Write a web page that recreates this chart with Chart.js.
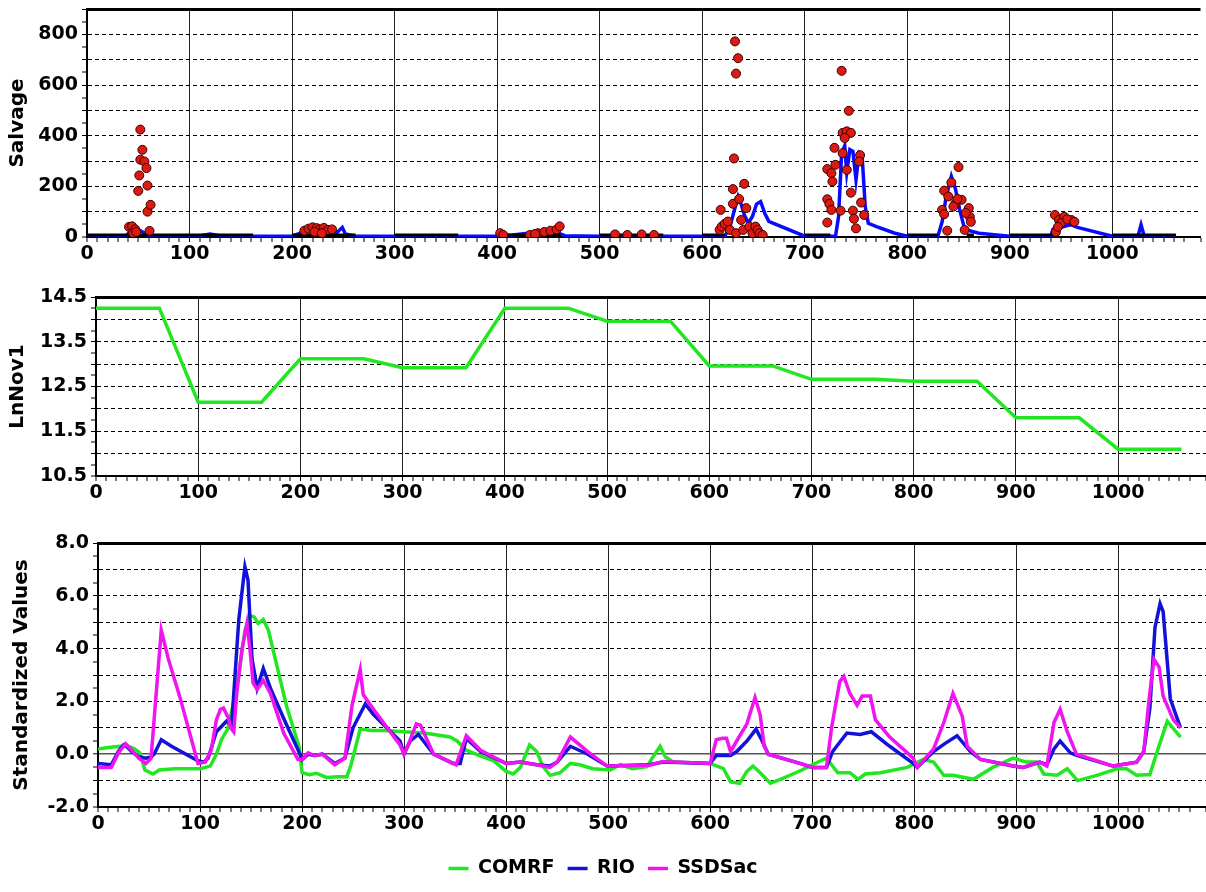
<!DOCTYPE html>
<html>
<head>
<meta charset="utf-8">
<script src="https://cdn.jsdelivr.net/npm/chart.js@4.4.1/dist/chart.umd.min.js"></script>
<style>
  html, body { margin: 0; padding: 0; background: #fff; }
  #tela { position: relative; width: 1206px; height: 892px; overflow: hidden; }
  #tela canvas { position: absolute; left: 0; display: block; }
</style>
</head>
<body>
<div id="tela">
  <canvas id="grafico1" width="1206" height="262" style="top:0px"></canvas>
  <canvas id="grafico2" width="1206" height="248" style="top:262px"></canvas>
  <canvas id="grafico3" width="1206" height="382" style="top:510px"></canvas>
</div>
<script>
// painel 1 - Salvage (pontos observados, linha prevista, linha base)
var salvageX = [41, 44, 47, 45, 48, 50, 51, 52, 52, 54, 56, 58, 59, 59, 62, 61,
  212, 216, 220, 224, 227, 231, 235, 239, 222, 229,
  403, 406, 432, 440, 446, 452, 458, 461, 437,
  515, 527, 541, 553,
  617, 619, 622, 625, 627, 633, 638, 640, 646, 649, 652, 654, 656, 659, 632, 635, 633, 631, 641, 630, 630, 636, 618, 643,
  736, 743, 737, 741, 745, 739, 729, 737, 754, 753, 730, 722, 726, 727, 741, 745, 722, 724, 726, 755, 735, 747, 748, 758, 722, 750,
  850, 836, 853, 860, 834, 861, 856, 839, 847, 840, 845, 857, 849, 836, 862, 843,
  944, 948, 953, 960, 945, 950, 956, 963, 947];
var salvageY = [40, 42, 30, 15, 20, 182, 243, 305, 424, 344, 298, 272, 203, 100, 127, 24,
  25, 33, 38, 35, 30, 36, 28, 30, 20, 15,
  15, 8, 8, 15, 20, 25, 30, 42, 12,
  10, 8, 10, 8,
  28, 41, 52, 61, 28, 15, 67, 28, 41, 15, 41, 28, 15, 8, 772, 706, 645, 310, 210, 189, 131, 150, 107, 114,
  656, 498, 411, 417, 411, 391, 352, 331, 323, 298, 285, 268, 252, 219, 265, 175, 149, 131, 107, 136, 104, 104, 72, 87, 57, 34,
  276, 183, 147, 114, 107, 80, 28, 25, 133, 160, 120, 95, 150, 90, 60, 215,
  87, 67, 80, 67, 20, 55, 70, 60, 40];

var predX = [0, 38, 41, 45, 50, 55, 60, 80, 112, 120, 128, 160, 200, 206, 212, 220, 228, 236, 244, 249,
  252, 262, 300, 400, 415, 428, 440, 450, 458, 466, 500, 600, 622, 627, 631, 635, 638, 641, 645, 649,
  653, 657, 661, 665, 669, 700, 730, 733, 736, 739, 741, 744, 747, 750, 753, 756, 759, 762, 770, 788,
  800, 830, 834, 838, 843, 847, 851, 856, 870, 900, 940, 942, 946, 950, 956, 960, 966, 1000, 1025, 1028, 1031, 1062];
var predY = [3, 3, 18, 33, 30, 18, 5, 3, 6, 12, 6, 3, 3, 12, 22, 28, 30, 24, 18, 38,
  12, 3, 3, 3, 8, 14, 18, 24, 18, 5, 3, 3, 3, 40, 100, 160, 130, 88, 55, 81,
  130, 140, 94, 62, 55, 3, 3, 80, 330, 360, 255, 345, 338, 226, 331, 318, 120, 54, 41, 15,
  3, 5, 60, 160, 240, 190, 110, 30, 15, 3, 3, 30, 45, 38, 45, 48, 38, 3, 3, 48, 5, 3];

var baseX = [0, 162, 181, 200, 262, 281, 300, 362, 381, 400, 462, 481, 500, 562, 581, 600, 622, 660,
  700, 725, 760, 800, 830, 845, 858, 865, 880, 900, 942, 970, 1000, 1062];
var baseY = [8, 8, null, 8, 8, null, 8, 8, null, 8, 8, null, 8, 8, null, 8, 8, null,
  8, 8, null, 8, 8, null, 8, 8, null, 8, 8, null, 8, 8];

// painel 2 - LnNov1
var lnX = [0, 62, 100, 162, 200, 262, 300, 362, 400, 462, 500, 562, 600, 662, 700, 762, 800, 862, 900, 962, 1000, 1062];
var lnY = [14.25, 14.25, 12.15, 12.15, 13.12, 13.12, 12.92, 12.92, 14.25, 14.25, 13.96, 13.96,
  12.96, 12.96, 12.66, 12.66, 12.62, 12.62, 11.8, 11.8, 11.1, 11.1];

// painel 3 - valores padronizados
var comrfX = [0, 10, 22, 30, 36, 41, 46, 54, 60, 75, 100, 110, 116, 121, 127, 132, 138, 144, 149, 153,
  157, 162, 167, 175, 185, 197, 200, 207, 214, 224, 235, 244, 248, 257, 268, 282, 300, 320, 345, 352,
  361, 374, 388, 400, 407, 414, 423, 430, 436, 443, 453, 463, 472, 485, 502, 512, 524, 538, 544, 551,
  556, 564, 600, 613, 620, 629, 636, 642, 649, 659, 669, 690, 700, 714, 719, 725, 737, 745, 752, 767,
  793, 809, 819, 829, 838, 858, 877, 897, 910, 920, 927, 940, 950, 960, 979, 999, 1008, 1018, 1031, 1038,
  1048, 1061];
var comrfY = [0.2, 0.25, 0.3, 0.3, 0.2, 0.05, -0.6, -0.75, -0.6, -0.55, -0.55, -0.45, 0.0, 0.55, 0.95, 1.8, 3.0, 4.7, 5.25, 5.2,
  4.95, 5.1, 4.7, 3.4, 1.8, 0.3, -0.7, -0.78, -0.72, -0.88, -0.85, -0.85, -0.4, 0.95, 0.9, 0.9, 0.85, 0.8, 0.65, 0.5,
  0.15, -0.05, -0.25, -0.65, -0.75, -0.5, 0.35, 0.1, -0.45, -0.8, -0.7, -0.35, -0.4, -0.55, -0.6, -0.4, -0.55, -0.47, -0.1, 0.3,
  -0.1, -0.3, -0.35, -0.55, -1.05, -1.1, -0.65, -0.45, -0.7, -1.1, -0.95, -0.6, -0.4, -0.15, -0.4, -0.7, -0.7, -0.95, -0.75, -0.7,
  -0.5, -0.2, -0.3, -0.8, -0.8, -0.95, -0.5, -0.15, -0.3, -0.3, -0.75, -0.8, -0.55, -1.0, -0.8, -0.55, -0.55, -0.8, -0.77, 0.08,
  1.25, 0.65];

var rioX = [0, 13, 20, 25, 28, 33, 40, 47, 52, 55, 62, 72, 98, 104, 108, 116, 126, 131, 138, 144,
  147, 151, 156, 162, 169, 182, 198, 200, 206, 212, 220, 232, 242, 250, 262, 270, 296, 300, 306, 314,
  329, 348, 355, 361, 375, 400, 414, 430, 443, 450, 463, 480, 499, 540, 554, 600, 606, 620, 626, 636,
  645, 651, 657, 688, 700, 714, 720, 724, 734, 747, 758, 776, 799, 803, 819, 830, 842, 855, 865, 897,
  907, 923, 930, 937, 943, 953, 960, 995, 1018, 1025, 1031, 1036, 1041, 1044, 1051, 1061];
var rioY = [-0.35, -0.4, 0.1, 0.35, 0.3, 0.1, -0.1, -0.15, -0.1, 0.0, 0.55, 0.3, -0.25, -0.3, -0.15, 0.85, 1.25, 1.1, 5.1, 7.1,
  6.6, 3.6, 2.5, 3.25, 2.5, 1.35, 0.0, -0.2, 0.0, -0.05, 0.0, -0.35, -0.15, 1.0, 1.9, 1.5, 0.5, 0.0, 0.5, 0.75,
  0.0, -0.35, -0.35, 0.6, 0.1, -0.35, -0.3, -0.4, -0.45, -0.3, 0.3, 0.0, -0.45, -0.4, -0.3, -0.35, -0.05, -0.05, 0.1, 0.5,
  0.95, 0.5, 0.0, -0.35, -0.5, -0.5, 0.1, 0.3, 0.8, 0.75, 0.85, 0.3, -0.35, -0.5, 0.1, 0.4, 0.7, 0.1, -0.2, -0.45,
  -0.5, -0.3, -0.4, 0.2, 0.5, 0.05, -0.05, -0.45, -0.3, 0.1, 1.75, 4.8, 5.7, 5.4, 2.1, 1.0];

var ssdX = [0, 13, 20, 25, 27, 33, 40, 47, 52, 62, 69, 80, 98, 105, 111, 116, 120, 123, 128, 130,
  133, 136, 141, 146, 149, 152, 156, 162, 169, 182, 196, 200, 206, 212, 220, 232, 242, 249, 257, 260,
  270, 296, 300, 306, 312, 316, 329, 351, 361, 375, 400, 414, 430, 443, 450, 463, 480, 499, 540, 554,
  600, 606, 612, 616, 620, 626, 636, 644, 649, 653, 657, 688, 700, 714, 719, 727, 731, 737, 744, 749,
  757, 762, 776, 799, 803, 819, 829, 838, 847, 852, 865, 897, 907, 923, 930, 937, 943, 950, 959, 995,
  1018, 1025, 1030, 1035, 1040, 1044, 1054, 1061];
var ssdY = [-0.5, -0.5, 0.05, 0.3, 0.4, 0.15, -0.15, -0.35, -0.15, 4.7, 3.6, 2.2, -0.35, -0.3, 0.15, 1.3, 1.7, 1.75, 1.35, 1.0,
  0.85, 2.3, 3.95, 4.95, 3.95, 2.7, 2.45, 2.8, 2.3, 0.8, -0.2, -0.2, 0.05, -0.05, 0.0, -0.4, -0.15, 1.85, 3.2, 2.25,
  1.7, 0.35, 0.0, 0.55, 1.15, 1.1, 0.0, -0.4, 0.7, 0.15, -0.35, -0.3, -0.4, -0.5, -0.3, 0.65, 0.1, -0.45, -0.42, -0.28,
  -0.35, 0.55, 0.6, 0.6, 0.1, 0.5, 1.15, 2.15, 1.5, 0.3, 0.0, -0.35, -0.5, -0.5, 1.0, 2.75, 2.95, 2.3, 1.85, 2.2,
  2.2, 1.3, 0.65, -0.15, -0.5, 0.2, 1.2, 2.3, 1.45, 0.3, -0.2, -0.45, -0.5, -0.3, -0.45, 1.2, 1.7, 0.85, 0.0, -0.45,
  -0.3, 0.1, 2.0, 3.6, 3.3, 2.2, 1.3, 1.0];

var xMax = 1086;

Chart.defaults.font.family = "'DejaVu Sans', sans-serif";
Chart.defaults.font.weight = 'bold';
Chart.defaults.font.size = 19;
Chart.defaults.color = '#000';
Chart.defaults.animation = false;
Chart.defaults.plugins.tooltip.enabled = false;

function pares(xs, ys) {
  return xs.map(function (x, i) { return { x: x, y: ys[i] }; });
}

function multiplo(v, m) {
  var q = v / m;
  return Math.abs(q - Math.round(q)) < 1e-6;
}

function eixoX(altura) {
  return {
    type: 'linear', position: 'bottom', min: 0, max: xMax,
    afterFit: function (s) { s.height = altura; s.paddingLeft = 0; s.paddingRight = 0; },
    border: { color: '#000', width: 2 },
    grid: {
      color: '#222',
      lineWidth: function (c) { return c.tick && c.tick.value > 0 && multiplo(c.tick.value, 100) ? 1 : 0; },
      tickColor: '#000', tickLength: 5, tickWidth: 1
    },
    ticks: {
      stepSize: 10, autoSkip: false, maxRotation: 0, minRotation: 0, padding: 1,
      callback: function (v) { return multiplo(v, 100) ? String(v) : ''; }
    }
  };
}

// cfg: min, max, passo, grade, rotulo, largura, titulo, padTitulo, temZero
function eixoY(cfg) {
  function tracejado(v) {
    if (Math.abs(v - cfg.min) < 1e-6 || Math.abs(v - cfg.max) < 1e-6) return false;
    if (cfg.temZero && Math.abs(v) < 1e-6) return false;
    return multiplo(v - cfg.min, cfg.grade);
  }
  return {
    min: cfg.min, max: cfg.max,
    afterFit: function (s) { s.width = cfg.largura; s.paddingTop = 0; s.paddingBottom = 0; },
    border: {
      color: '#000', width: 2,
      dash: function (c) { return c.tick && tracejado(c.tick.value) ? [4, 3] : []; }
    },
    grid: {
      color: function (c) {
        if (!c.tick) return '#000';
        if (cfg.temZero && Math.abs(c.tick.value) < 1e-6) return '#555';
        return '#000';
      },
      lineWidth: function (c) {
        if (!c.tick) return 0;
        var v = c.tick.value;
        if (Math.abs(v - cfg.max) < 1e-6) return 3;
        if (cfg.temZero && Math.abs(v) < 1e-6) return 1.5;
        return tracejado(v) ? 1 : 0;
      },
      tickColor: '#000', tickLength: 5, tickWidth: 1
    },
    ticks: {
      stepSize: cfg.passo, autoSkip: false, padding: 4,
      callback: function (v) {
        if (!multiplo(v - cfg.min, cfg.rotulo)) return '';
        return cfg.casas ? v.toFixed(cfg.casas) : String(v);
      }
    },
    title: {
      display: true, text: cfg.titulo,
      font: { size: 20, weight: 'bold' },
      padding: { top: cfg.padTitulo, bottom: 0 }
    }
  };
}

var grafico1 = new Chart(document.getElementById('grafico1'), {
  type: 'line',
  data: {
    datasets: [
      {
        label: 'Salvage', data: pares(salvageX, salvageY), showLine: false,
        backgroundColor: '#dc1a12', borderColor: '#3a0000', borderWidth: 1,
        pointRadius: 4.5, order: 0
      },
      {
        label: 'Base', data: pares(baseX, baseY), borderColor: '#000', borderWidth: 3,
        pointRadius: 0, spanGaps: false, order: 1
      },
      {
        label: 'Predicted', data: pares(predX, predY), borderColor: '#0a0aff', borderWidth: 3.5,
        pointRadius: 0, order: 2
      }
    ]
  },
  options: {
    responsive: false,
    layout: { padding: { top: 9, right: 0, bottom: 0, left: 0 } },
    plugins: { legend: { display: false } },
    scales: {
      x: eixoX(25),
      y: eixoY({ min: 0, max: 900, passo: 50, grade: 100, rotulo: 200, casas: 0,
        largura: 87, titulo: 'Salvage', padTitulo: 6, temZero: false })
    }
  }
});

var grafico2 = new Chart(document.getElementById('grafico2'), {
  type: 'line',
  data: {
    datasets: [
      {
        label: 'LnNov1', data: pares(lnX, lnY), borderColor: '#22e622', borderWidth: 3.5,
        pointRadius: 0
      }
    ]
  },
  options: {
    responsive: false,
    layout: { padding: { top: 35, right: 0, bottom: 0, left: 0 } },
    plugins: { legend: { display: false } },
    scales: {
      x: eixoX(34),
      y: eixoY({ min: 10.5, max: 14.5, passo: 0.25, grade: 0.5, rotulo: 1, casas: 1,
        largura: 96, titulo: 'LnNov1', padTitulo: 6, temZero: false })
    }
  }
});

var grafico3 = new Chart(document.getElementById('grafico3'), {
  type: 'line',
  data: {
    datasets: [
      {
        label: 'COMRF', data: pares(comrfX, comrfY), borderColor: '#22e622', backgroundColor: '#22e622',
        borderWidth: 3.5, pointRadius: 0, order: 2
      },
      {
        label: 'RIO', data: pares(rioX, rioY), borderColor: '#1212d8', backgroundColor: '#1212d8',
        borderWidth: 3.5, pointRadius: 0, order: 1
      },
      {
        label: 'SSDSac', data: pares(ssdX, ssdY), borderColor: '#f014f0', backgroundColor: '#f014f0',
        borderWidth: 3.5, pointRadius: 0, order: 0
      }
    ]
  },
  options: {
    responsive: false,
    layout: { padding: { top: 33, right: 0, bottom: 4, left: 0 } },
    plugins: {
      legend: {
        display: true, position: 'bottom',
        labels: {
          usePointStyle: true, pointStyle: 'line', pointStyleWidth: 20,
          padding: 13, color: '#000', font: { size: 19, weight: 'bold' },
          sort: function (a, b) { return a.datasetIndex - b.datasetIndex; }
        }
      }
    },
    scales: {
      x: eixoX(39),
      y: eixoY({ min: -2, max: 8, passo: 0.5, grade: 1, rotulo: 2, casas: 1,
        largura: 98, titulo: 'Standardized Values', padTitulo: 10, temZero: true })
    }
  }
});
</script>
</body>
</html>
